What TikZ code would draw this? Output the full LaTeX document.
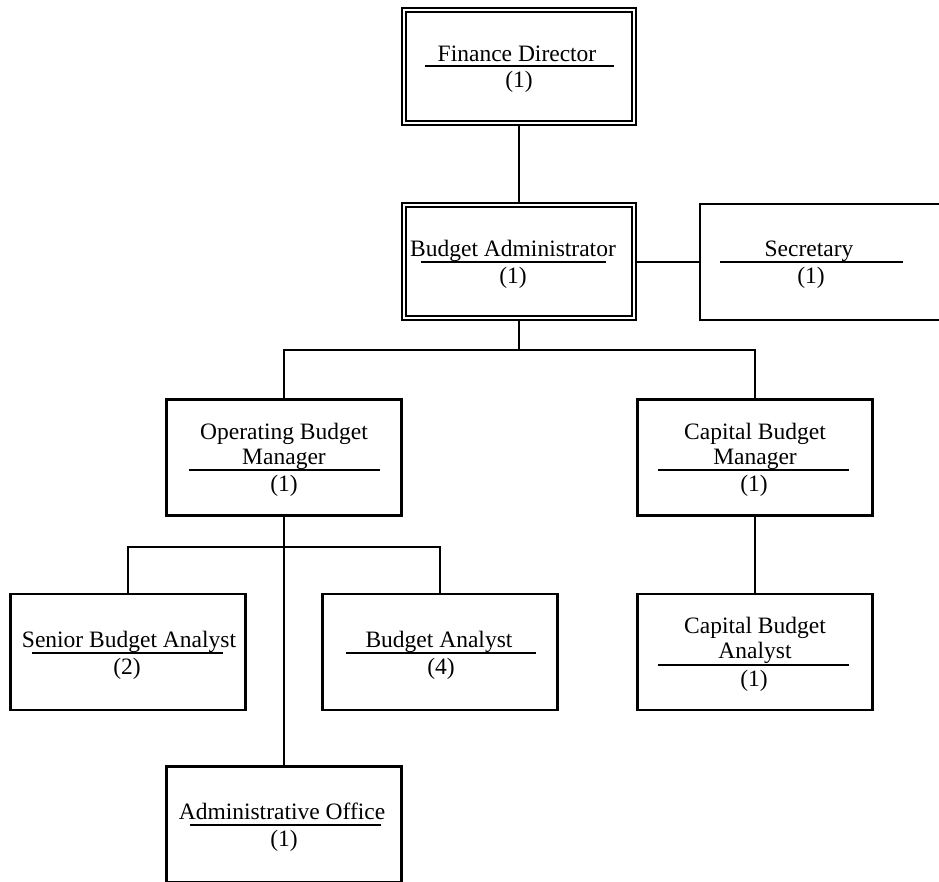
\documentclass[tikz,border=0pt]{standalone}
\usepackage{fontspec}
\setmainfont{Liberation Serif}
\pgfdeclarelayer{wires}
\pgfsetlayers{wires,main}
\begin{document}
\begin{tikzpicture}[x=1pt,y=-1pt,
  every node/.style={font=\fontsize{23.5}{25}\selectfont, inner sep=0pt, outer sep=0pt},
  post/.style={draw, fill=white, line width=2.2pt, minimum width=235pt, minimum height=116pt},
  headpost/.style={draw, fill=white, line width=2pt, double, double distance=2.4pt,
                   minimum width=229.6pt, minimum height=112.6pt},
  wire/.style={line width=2.2pt},
  rule/.style={line width=2.2pt},
  title/.style={anchor=base},
  count/.style={anchor=base}]
\useasboundingbox (0,0) rectangle (939,881);
\clip (0,0) rectangle (939,881);

% ---- boxes ----
\node[headpost] (fd)  at (519,66.5) {};
\node[headpost] (ba)  at (519,261.5) {};
\node[post, minimum width=250pt] (sec) at (825,262) {};
\node[post] (obm) at (284,457.5) {};
\node[post] (cbm) at (755,457.5) {};
\node[post] (sba) at (128,652) {};
\node[post] (ban) at (440,652) {};
\node[post] (cba) at (755,652) {};
\node[post] (ao)  at (284,824.5) {};

% ---- labels: title above a rule, head count below ----
\node[title] (fd-t) at (517,61) {Finance Director};
\draw[rule] (425,66) -- (614,66);
\node[count] (fd-c) at (519,87) {(1)};

\node[title] (ba-t) at (513,256) {Budget Administrator};
\draw[rule] (421,262) -- (606,262);
\node[count] (ba-c) at (513,283) {(1)};

\node[title] (sec-t) at (809,256) {Secretary};
\draw[rule] (720,262) -- (903,262);
\node[count] (sec-c) at (811,283) {(1)};

\node[title] (obm-t1) at (284,439) {Operating Budget};
\node[title] (obm-t2) at (284,464) {Manager};
\draw[rule] (189,470) -- (380,470);
\node[count] (obm-c) at (284,491) {(1)};

\node[title] (cbm-t1) at (755,439) {Capital Budget};
\node[title] (cbm-t2) at (755,464) {Manager};
\draw[rule] (658,470) -- (849,470);
\node[count] (cbm-c) at (754,491) {(1)};

\node[title] (sba-t) at (129,647) {Senior Budget Analyst};
\draw[rule] (32,653) -- (223,653);
\node[count] (sba-c) at (127,674) {(2)};

\node[title] (ban-t) at (439,647) {Budget Analyst};
\draw[rule] (346,653) -- (536,653);
\node[count] (ban-c) at (441,674) {(4)};

\node[title] (cba-t1) at (755,633) {Capital Budget};
\node[title] (cba-t2) at (755,658) {Analyst};
\draw[rule] (658,665) -- (849,665);
\node[count] (cba-c) at (754,686) {(1)};

\node[title] (ao-t) at (282,819) {Administrative Office};
\draw[rule] (190,825) -- (381,825);
\node[count] (ao-c) at (284,846) {(1)};

% ---- reporting lines ----
\coordinate (bus1) at (519,350);
\coordinate (bus2) at (284,547);
\begin{pgfonlayer}{wires}
  \draw[wire] (fd.south) -- (ba.north);
  \draw[wire] (ba.east |- sec.west) -- (sec.west);
  \draw[wire] (ba.south) -- (bus1) -| (obm.north);
  \draw[wire] (bus1) -| (cbm.north);
  \draw[wire] (obm.south) -- (ao.north);
  \draw[wire] (bus2) -| (sba.north);
  \draw[wire] (bus2) -| (ban.north);
  \draw[wire] (cbm.south) -- (cba.north);
\end{pgfonlayer}
\end{tikzpicture}
\end{document}
